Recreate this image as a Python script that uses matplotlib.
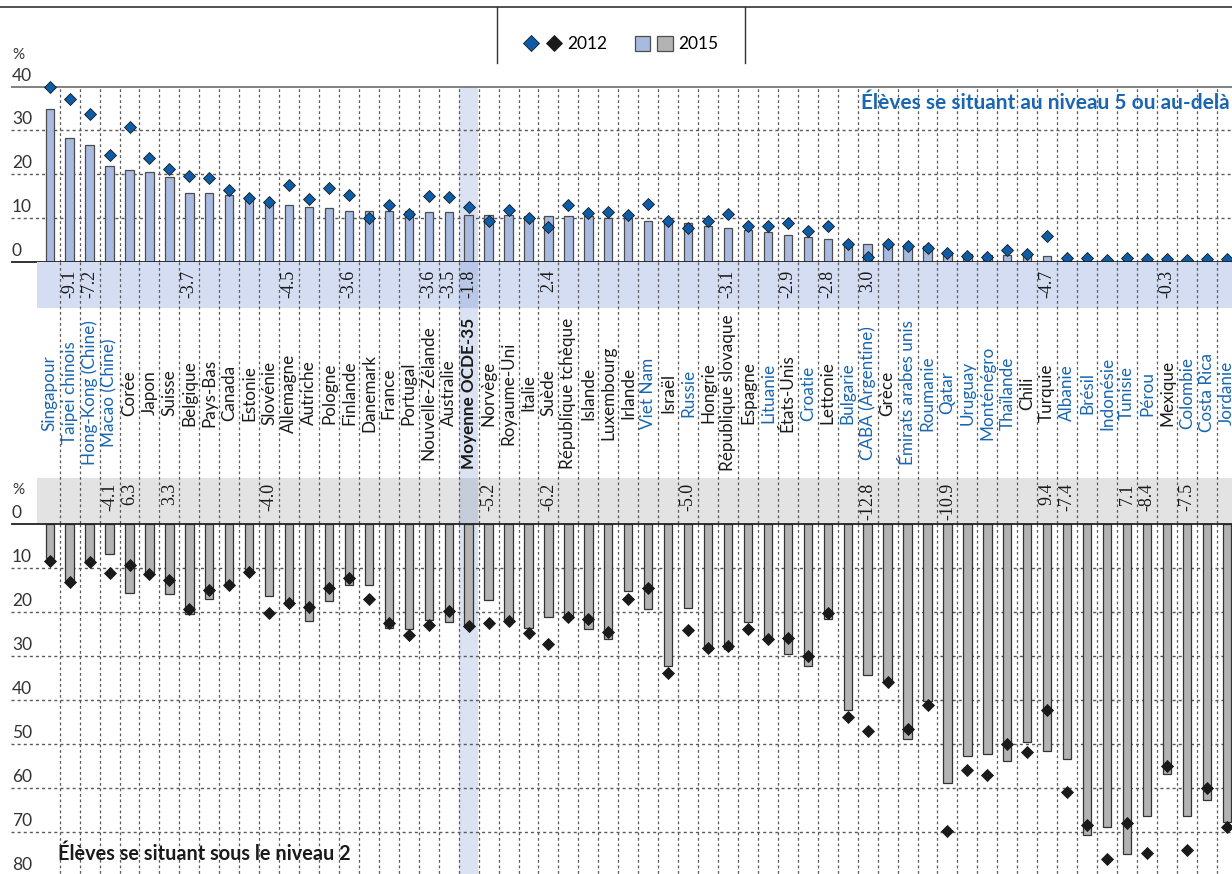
import matplotlib
matplotlib.use('Agg')
import matplotlib.pyplot as plt
from matplotlib.lines import Line2D
from matplotlib.patches import Patch
from matplotlib.legend_handler import HandlerTuple
import numpy as np

plt.rcParams['font.family'] = ['Lato', 'DejaVu Sans']

countries = ['Singapour', 'Taipei chinois', 'Hong-Kong (Chine)', 'Macao (Chine)', 'Corée',
             'Japon', 'Suisse', 'Belgique', 'Pays-Bas', 'Canada',
             'Estonie', 'Slovénie', 'Allemagne', 'Autriche', 'Pologne',
             'Finlande', 'Danemark', 'France', 'Portugal', 'Nouvelle-Zélande',
             'Australie', 'Moyenne OCDE-35', 'Norvège', 'Royaume-Uni', 'Italie',
             'Suède', 'République tchèque', 'Islande', 'Luxembourg', 'Irlande',
             'Viet Nam', 'Israël', 'Russie', 'Hongrie', 'République slovaque',
             'Espagne', 'Lituanie', 'États-Unis', 'Croatie', 'Lettonie',
             'Bulgarie', 'CABA (Argentine)', 'Grèce', 'Émirats arabes unis', 'Roumanie',
             'Qatar', 'Uruguay', 'Monténégro', 'Thaïlande', 'Chili',
             'Turquie', 'Albanie', 'Brésil', 'Indonésie', 'Tunisie',
             'Pérou', 'Mexique', 'Colombie', 'Costa Rica', 'Jordanie']

partners = {'Singapour', 'Taipei chinois', 'Hong-Kong (Chine)', 'Macao (Chine)', 'Viet Nam',
            'Russie', 'Lituanie', 'Croatie', 'Bulgarie', 'CABA (Argentine)',
            'Émirats arabes unis', 'Roumanie', 'Qatar', 'Uruguay', 'Monténégro',
            'Thaïlande', 'Albanie', 'Brésil', 'Indonésie', 'Tunisie', 'Pérou',
            'Colombie', 'Costa Rica', 'Jordanie'}

# niveau 5 ou au-delà (%)
top_2015 = [34.8, 28.2, 26.6, 21.9, 21.0, 20.4, 19.3, 15.8, 15.6, 15.2,
            14.6, 13.9, 13.0, 12.6, 12.3, 11.7, 11.7, 11.5, 11.5, 11.4,
            11.3, 10.7, 10.7, 10.7, 10.5, 10.4, 10.4, 10.4, 10.1, 10.0,
            9.4, 9.1, 8.8, 8.2, 7.8, 7.2, 6.9, 6.0, 5.6, 5.3,
            4.5, 4.1, 4.0, 3.7, 3.5, 2.2, 1.8, 1.5, 1.5, 1.6,
            1.2, 0.8, 0.7, 0.4, 0.6, 0.6, 0.3, 0.3, 0.6, 0.2]
top_2012 = [40.0, 37.1, 33.7, 24.3, 30.9, 23.7, 21.3, 19.5, 19.2, 16.4,
            14.6, 13.7, 17.5, 14.4, 16.8, 15.3, 10.0, 12.9, 10.8, 15.0,
            14.8, 12.6, 9.4, 11.9, 10.0, 8.0, 12.9, 11.2, 11.3, 10.7,
            13.3, 9.4, 7.8, 9.3, 11.0, 8.1, 8.1, 8.9, 7.1, 8.2,
            4.1, 1.1, 4.0, 3.5, 3.2, 2.0, 1.4, 1.1, 2.7, 1.7,
            5.9, 0.8, 0.8, 0.3, 0.8, 0.6, 0.6, 0.3, 0.6, 0.6]

# sous le niveau 2 (%)
bot_2015 = [7.7, 12.7, 8.5, 6.7, 15.6, 10.8, 15.9, 20.3, 17.0, 14.0,
            10.3, 16.3, 18.4, 22.0, 17.4, 13.7, 13.7, 23.6, 23.9, 21.7,
            22.1, 23.4, 17.3, 21.8, 23.5, 21.1, 21.4, 23.8, 26.0, 15.2,
            19.2, 32.3, 19.1, 28.5, 28.3, 22.3, 26.4, 29.5, 32.2, 21.6,
            42.3, 34.2, 35.8, 48.9, 40.1, 58.9, 52.6, 52.1, 53.9, 49.5,
            51.5, 53.4, 70.5, 68.8, 75.0, 66.3, 56.8, 66.4, 62.7, 67.7]
bot_2012 = [8.3, 13.0, 8.6, 11.0, 9.2, 11.2, 12.6, 19.2, 14.9, 13.9,
            10.8, 20.2, 17.9, 18.8, 14.5, 12.3, 17.0, 22.5, 25.1, 22.8,
            19.8, 23.1, 22.5, 21.9, 24.8, 27.3, 21.1, 21.6, 24.5, 17.0,
            14.4, 33.7, 24.1, 28.2, 27.6, 23.8, 26.1, 25.9, 30.0, 20.2,
            43.9, 47.0, 35.8, 46.5, 41.0, 69.8, 55.9, 56.9, 49.9, 51.7,
            42.1, 60.8, 68.4, 76.0, 67.9, 74.7, 54.9, 74.0, 59.9, 68.7]

# variations significatives 2015-2012
top_change = {'Taipei chinois': '-9.1', 'Hong-Kong (Chine)': '-7.2', 'Belgique': '-3.7',
              'Allemagne': '-4.5', 'Finlande': '-3.6', 'Nouvelle-Zélande': '-3.6',
              'Australie': '-3.5', 'Moyenne OCDE-35': '-1.8', 'Suède': '2.4',
              'République slovaque': '-3.1', 'États-Unis': '-2.9', 'Lettonie': '-2.8',
              'CABA (Argentine)': '3.0', 'Turquie': '-4.7', 'Mexique': '-0.3'}
bot_change = {'Macao (Chine)': '-4.1', 'Corée': '6.3', 'Suisse': '3.3', 'Slovénie': '-4.0',
              'Norvège': '-5.2', 'Suède': '-6.2', 'Russie': '-5.0', 'CABA (Argentine)': '-12.8',
              'Qatar': '-10.9', 'Turquie': '9.4', 'Albanie': '-7.4', 'Tunisie': '7.1',
              'Pérou': '-8.4', 'Colombie': '-7.5'}

W, H = 1232, 874
BLUE_TXT = '#1a66b0'
fig = plt.figure(figsize=(W / 100, H / 100), dpi=100)

x0, dx = 49.7, 19.95
xl = (-x0 / dx, (W - x0) / dx)
gx = (11 - x0) / dx       # start of horizontal lines
bx = (37 - x0) / dx       # start of shaded bands
lx = (12 - x0) / dx       # tick labels
x = np.arange(len(countries))
oecd = countries.index('Moyenne OCDE-35')


def add_ax(top, bottom):
    ax = fig.add_axes([0, 1 - bottom / H, 1, (bottom - top) / H])
    ax.set_xlim(xl)
    ax.axis('off')
    return ax


ax_top = add_ax(86.7, 261.7)
ax_top.set_ylim(0, 40)
ax_mid = add_ax(261.7, 524.3)
ax_mid.set_ylim(524.3, 261.7)
ax_bot = add_ax(524.3, H)
ax_bot.set_ylim((H - 524.3) / 4.4, 0)

dash = (0, (2.2, 2.2))
grid_c = '#5a5a5a'

# --- top panel
ax_top.axvspan(oecd - 0.48, oecd + 0.48, color='#dbe3f3', zorder=0, lw=0)
ax_top.vlines(x + 0.5, 0, 40, colors=grid_c, linestyles=dash, lw=0.9, zorder=1)
ax_top.hlines([10, 20, 30], gx, xl[1], colors=grid_c, linestyles=dash, lw=1.0, zorder=1)
ax_top.hlines(40, gx, xl[1], colors='#777777', lw=1.3, zorder=1, clip_on=False)
ax_top.bar(x, top_2015, width=0.42, color='#a8bae0', edgecolor='#4d4d4d', lw=0.9, zorder=2)
ax_top.plot(x, top_2012, 'D', ms=6.5, mfc='#0d5ca8', mec='#1a1a1a', mew=0.6,
            ls='none', zorder=3, clip_on=False)
ax_top.hlines(0, gx, xl[1], colors='#222222', lw=1.3, zorder=4, clip_on=False)
for v in range(0, 50, 10):
    ax_top.annotate(str(v), xy=(lx, v), xytext=(0, 8), textcoords='offset points',
                    ha='left', va='center', fontsize=12.5, color='#333333',
                    annotation_clip=False)
ax_top.text(xl[1] - 0.1, 36.3, 'Élèves se situant au niveau 5 ou au-delà', ha='right',
            va='center', fontsize=15, fontweight='bold', color=BLUE_TXT, zorder=5)

# --- middle: labels and change rows
band_top = 1 - (307.5 - 261.7) / 262.6
band_bot = (524.3 - 478) / 262.6
ax_mid.axvspan(bx, xl[1], ymin=band_top, ymax=1, color='#d4ddf1', lw=0, zorder=0)
ax_mid.axvspan(bx, xl[1], ymin=0, ymax=band_bot, color='#e3e3e3', lw=0, zorder=0)
ax_mid.axvspan(oecd - 0.48, oecd + 0.48, ymin=band_top, ymax=1,
               color='#b9c8e8', lw=0, zorder=0.5)
ax_mid.axvspan(oecd - 0.48, oecd + 0.48, ymin=band_bot, ymax=band_top,
               color='#dbe3f3', lw=0, zorder=0.5)
ax_mid.axvspan(oecd - 0.48, oecd + 0.48, ymin=0, ymax=band_bot,
               color='#c5ccda', lw=0, zorder=0.5)
ax_mid.vlines(x + 0.5, 261.7, 524.3, colors=grid_c, linestyles=dash, lw=0.9, zorder=1)

for i, c in enumerate(countries):
    bold = c == 'Moyenne OCDE-35'
    ax_mid.text(i, 393, c, rotation=90, ha='center', va='center', fontsize=12.3,
                color=BLUE_TXT if c in partners else '#1a1a1a',
                fontweight='bold' if bold else 'normal', zorder=3)
    if c in top_change:
        ax_mid.text(i, 270, top_change[c], rotation=90, ha='center', va='top',
                    fontsize=13, family=['Liberation Serif'], color='#1a1a1a', zorder=3)
    if c in bot_change:
        ax_mid.text(i, 483, bot_change[c], rotation=90, ha='center', va='top',
                    fontsize=13, family=['Liberation Serif'], color='#1a1a1a', zorder=3)
ax_mid.text(lx, 490, '%', ha='left', va='center', fontsize=11, color='#333333')

# --- bottom panel
ax_bot.axvspan(oecd - 0.48, oecd + 0.48, color='#dbe3f3', zorder=0, lw=0)
ax_bot.vlines(x + 0.5, 0, 80, colors=grid_c, linestyles=dash, lw=0.9, zorder=1)
ax_bot.hlines(range(10, 80, 10), gx, xl[1], colors=grid_c, linestyles=dash, lw=1.0, zorder=1)
ax_bot.bar(x, bot_2015, width=0.42, color='#b3b3b3', edgecolor='#333333', lw=0.9, zorder=2)
ax_bot.plot(x, bot_2012, 'D', ms=6.5, mfc='#1a1a1a', mec='#1a1a1a', mew=0.6,
            ls='none', zorder=3, clip_on=False)
ax_bot.hlines(0, gx, xl[1], colors='#222222', lw=1.3, zorder=4, clip_on=False)
for v in range(0, 90, 10):
    ax_bot.annotate(str(v), xy=(lx, v), xytext=(0, 8), textcoords='offset points',
                    ha='left', va='center', fontsize=12.5, color='#333333',
                    annotation_clip=False)
ax_bot.text(0.4, 75.0, 'Élèves se situant sous le niveau 2', ha='left', va='center',
            fontsize=14.3, fontweight='bold', color='#1a1a1a', zorder=5)

# --- header with legend
fig.text(12 / W, 1 - 55 / H, '%', ha='left', va='center', fontsize=11, color='#333333')
fig.add_artist(Line2D([0, 1], [1 - 7 / H] * 2, color='#333333', lw=1.2))
for px in (497, 745):
    fig.add_artist(Line2D([px / W] * 2, [1 - 7 / H, 1 - 63 / H], color='#333333', lw=1.0))

d1 = Line2D([], [], marker='D', ls='none', ms=8, mfc='#0d5ca8', mec='#1a1a1a', mew=0.6)
d2 = Line2D([], [], marker='D', ls='none', ms=8, mfc='#1a1a1a', mec='#1a1a1a', mew=0.6)
p1 = Patch(facecolor='#a8bae0', edgecolor='#4d4d4d', lw=0.9)
p2 = Patch(facecolor='#b3b3b3', edgecolor='#4d4d4d', lw=0.9)
fig.legend(handles=[(d1, d2), (p1, p2)], labels=['2012', '2015'],
           handler_map={tuple: HandlerTuple(ndivide=None, pad=0.4)},
           ncol=2, frameon=False, loc='center', bbox_to_anchor=(621 / W, 1 - 44 / H),
           fontsize=12.5, handlelength=2.2, handleheight=1.0, columnspacing=1.6,
           handletextpad=0.3)

fig.savefig('out.png', dpi=100)
